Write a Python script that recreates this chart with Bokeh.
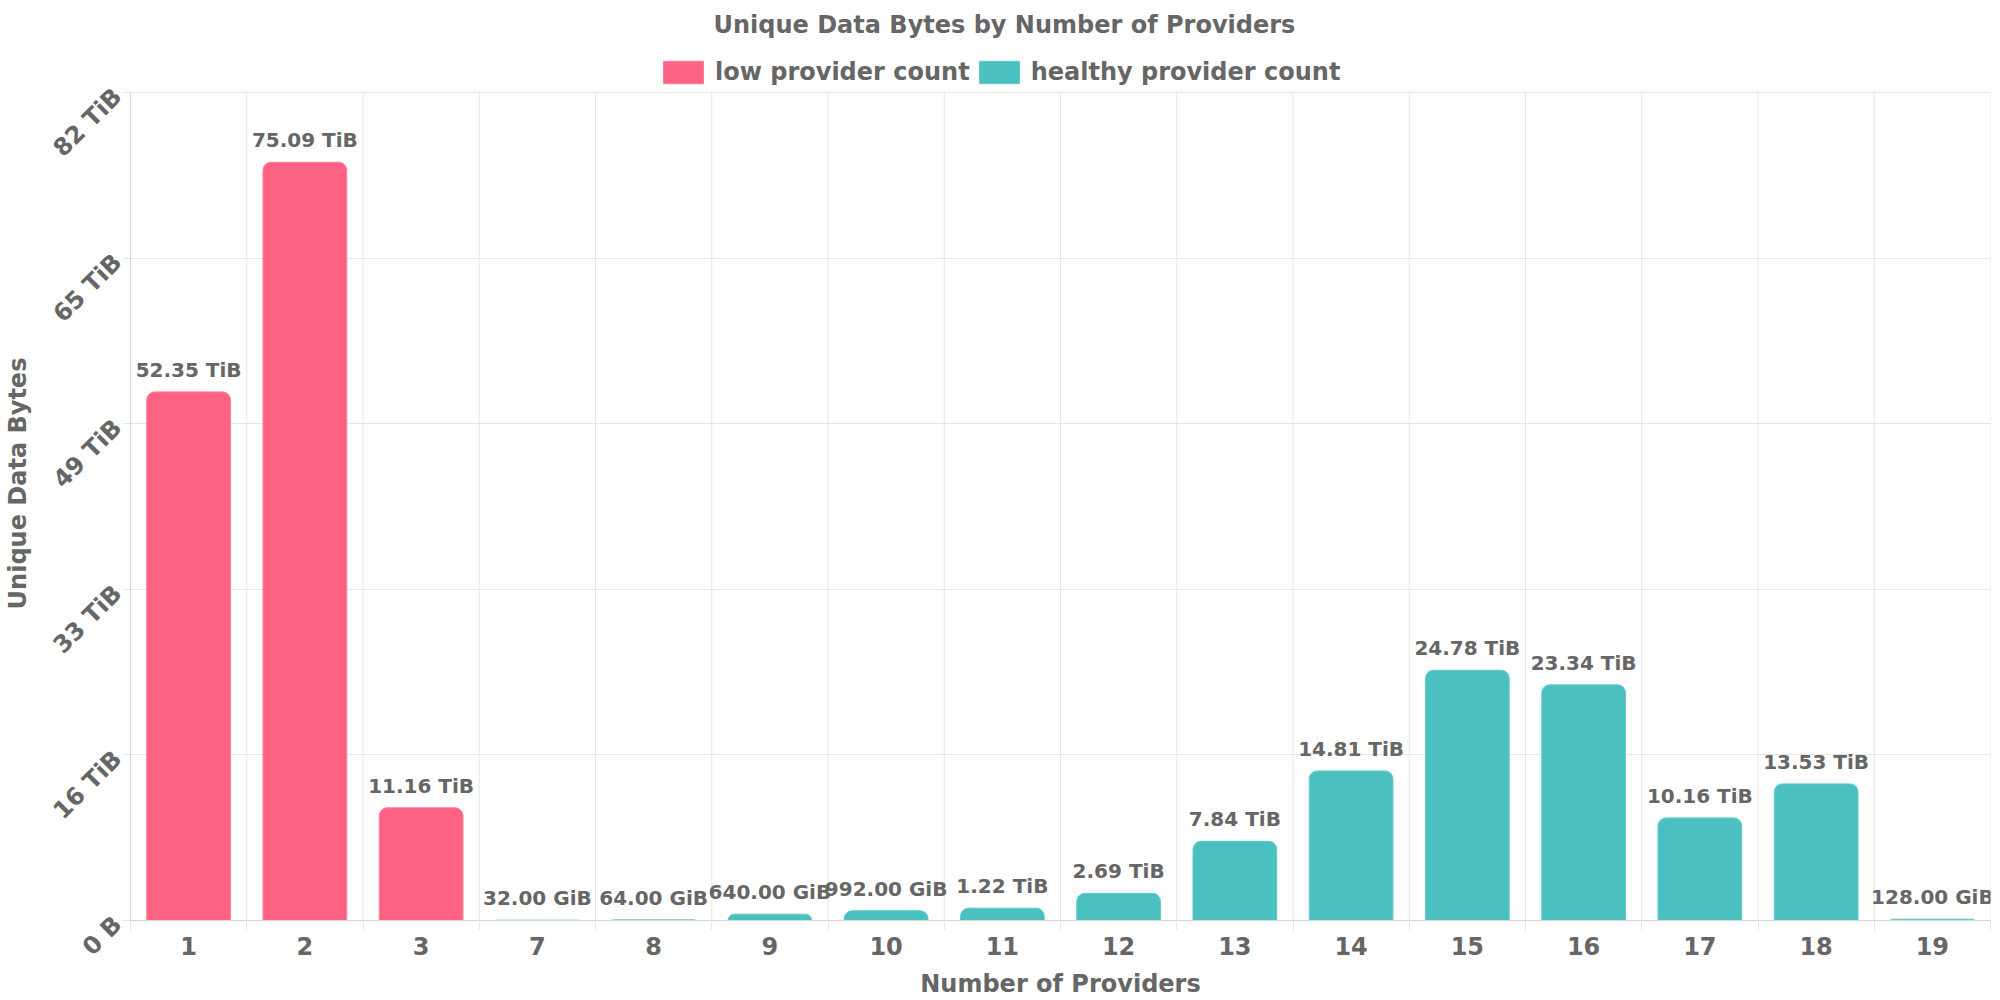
import math
from bokeh.plotting import figure
from bokeh.models import ColumnDataSource, FixedTicker, Legend, LegendItem, Range1d
from bokeh.embed import file_html
from bokeh.resources import INLINE
from bokeh.core.properties import value

# ---- data ----
categories = ["1", "2", "3", "7", "8", "9", "10", "11", "12", "13", "14", "15", "16", "17", "18", "19"]
values_tib = [52.35, 75.09, 11.16, 0.03125, 0.0625, 0.625, 0.96875, 1.22, 2.69, 7.84,
              14.81, 24.78, 23.34, 10.16, 13.53, 0.125]
value_labels = ["52.35 TiB", "75.09 TiB", "11.16 TiB", "32.00 GiB", "64.00 GiB", "640.00 GiB",
                "992.00 GiB", "1.22 TiB", "2.69 TiB", "7.84 TiB", "14.81 TiB", "24.78 TiB",
                "23.34 TiB", "10.16 TiB", "13.53 TiB", "128.00 GiB"]
series = ["low", "low", "low", "healthy", "healthy", "healthy", "healthy", "healthy", "healthy",
          "healthy", "healthy", "healthy", "healthy", "healthy", "healthy", "healthy"]
series_names = {"low": "low provider count", "healthy": "healthy provider count"}
y_ticks = [0, 16.4, 32.8, 49.2, 65.6, 82]
y_tick_labels = ["0 B", "16 TiB", "33 TiB", "49 TiB", "65 TiB", "82 TiB"]

COLORS = {"low": "#FF6384", "healthy": "#4BC0C0"}
LINE = {"low": "#FF7A96", "healthy": "#62C9C9"}
TEXT = "#666666"
GRID = "#e6e6e6"
FONT = "DejaVu Sans"

# layout (pixels)
W, H = 2000, 1000
B_LEFT, B_RIGHT, B_TOP, B_BOTTOM = 130, 10, 46, 80
AXIS_TOP = 92            # where the top y tick sits
frame_h = H - B_TOP - B_BOTTOM
y_max = y_ticks[-1] * frame_h / (H - B_BOTTOM - AXIS_TOP)   # room for the legend above the axis

n = len(categories)
xs = [i + 0.5 for i in range(n)]
boundaries = list(range(n + 1))

p = figure(width=W, height=H, x_range=Range1d(0, n), y_range=Range1d(0, y_max),
           output_backend="svg", toolbar_location=None,
           min_border_left=B_LEFT, min_border_right=B_RIGHT, min_border_top=B_TOP,
           min_border_bottom=B_BOTTOM)
p.outline_line_color = None
p.background_fill_color = "white"

# vertical grid lines between categories (limited to the axis extent)
p.xgrid.visible = False
p.segment(x0=boundaries, y0=[y_ticks[0]] * len(boundaries), x1=boundaries,
          y1=[y_ticks[-1]] * len(boundaries), line_color=GRID, line_width=1)

renderers = {}
for key in ["low", "healthy"]:
    idx = [i for i in range(n) if series[i] == key]
    src = ColumnDataSource(dict(x=[xs[i] for i in idx], top=[values_tib[i] for i in idx]))
    renderers[key] = p.vbar(x="x", top="top", bottom=0, width=0.72, source=src,
                            fill_color=COLORS[key], line_color=LINE[key], line_width=1,
                            border_radius=(8, 8, 0, 0))

lab_src = ColumnDataSource(dict(x=xs, y=values_tib, text=value_labels))
p.text(x="x", y="y", text="text", source=lab_src, text_font=value(FONT),
       text_font_style="bold", text_font_size="20px", text_color=TEXT,
       text_align="center", text_baseline="alphabetic", y_offset=-22)

p.ygrid.ticker = FixedTicker(ticks=y_ticks)
p.ygrid.grid_line_color = GRID
p.ygrid.grid_line_width = 1

# x axis
xa = p.xaxis[0]
xa.ticker = FixedTicker(ticks=xs, minor_ticks=boundaries)
xa.major_label_overrides = {x: c for x, c in zip(xs, categories)}
xa.major_tick_line_color = None
xa.major_tick_in = 0
xa.major_tick_out = 0
xa.minor_tick_line_color = GRID
xa.minor_tick_in = 0
xa.minor_tick_out = 10
xa.axis_line_color = "#d4d4d4"
xa.major_label_standoff = 6
xa.axis_label = "Number of Providers"
xa.axis_label_standoff = 12

# y axis
ya = p.yaxis[0]
ya.bounds = (y_ticks[0], y_ticks[-1])
ya.ticker = FixedTicker(ticks=y_ticks)
ya.major_label_overrides = {t: l for t, l in zip(y_ticks, y_tick_labels)}
ya.major_label_orientation = math.pi / 4
ya.major_tick_line_color = GRID
ya.major_tick_in = 0
ya.major_tick_out = 8
ya.minor_tick_line_color = None
ya.axis_line_color = "#d4d4d4"
ya.axis_label = "Unique Data Bytes"
ya.axis_label_standoff = 3

for ax in (xa, ya):
    ax.major_label_text_font = FONT
    ax.major_label_text_font_style = "bold"
    ax.major_label_text_font_size = "24px"
    ax.major_label_text_color = TEXT
    ax.axis_label_text_font = FONT
    ax.axis_label_text_font_style = "bold"
    ax.axis_label_text_font_size = "24px"
    ax.axis_label_text_color = TEXT

legend = Legend(items=[LegendItem(label=series_names[k], renderers=[renderers[k]]) for k in ["low", "healthy"]],
                orientation="horizontal", location=(528, H - B_BOTTOM - AXIS_TOP + 6),
                label_text_font=FONT, label_text_font_style="bold", label_text_font_size="24px",
                label_text_color=TEXT, glyph_width=50, glyph_height=28, label_standoff=7,
                spacing=4, padding=8, margin=0, border_line_color=None, background_fill_alpha=0)
p.add_layout(legend, "center")

p.title.text = "Unique Data Bytes by Number of Providers"
p.title.align = "left"
p.title.offset = 583
p.title.standoff = 16
p.title.text_font = FONT
p.title.text_font_style = "bold"
p.title.text_font_size = "24px"
p.title.text_color = TEXT

open("out.html", "w").write(file_html(p, INLINE))
